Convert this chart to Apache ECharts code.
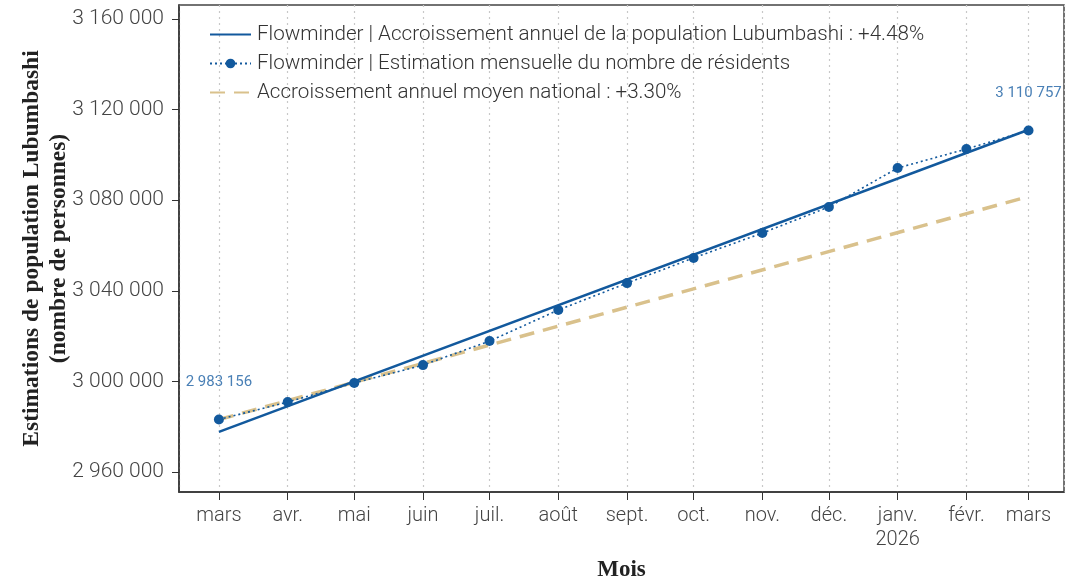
<!DOCTYPE html>
<html>
<head>
<meta charset="utf-8">
<script src="https://cdn.jsdelivr.net/npm/echarts@6/dist/echarts.min.js"></script>
<style>
  html, body { margin: 0; padding: 0; background: #fff; }
  #chart { width: 1074px; height: 579px; }
</style>
</head>
<body>
<div id="chart"></div>
<script>
// estimations mensuelles
const months = ['2025-03-01', '2025-04-01', '2025-05-01', '2025-06-01', '2025-07-01', '2025-08-01',
  '2025-09-01', '2025-10-01', '2025-11-01', '2025-12-01', '2026-01-01', '2026-02-01', '2026-03-01']
const residents = [2983156, 2990900, 2999300, 3007200, 3017800, 3031500,
  3043400, 3054500, 3065500, 3077000, 3094200, 3102600, 3110757]
// tendance Flowminder (+4.48%) et moyenne nationale (+3.30%)
const trendDates = ['2025-03-01', '2026-03-01']
const trendValues = [2977700, 3111100]
const nationalDates = ['2025-03-01', '2026-03-01']
const nationalValues = [2983156, 3081600]
const yTicks = [2960000, 3000000, 3040000, 3080000, 3120000, 3160000]
const monthNames = ['janv.', 'févr.', 'mars', 'avr.', 'mai', 'juin', 'juil.', 'août', 'sept.', 'oct.', 'nov.', 'déc.']

const blue = '#12599d'
const tan = '#d9c18c'
const fmt = v => String(Math.round(v)).replace(/\B(?=(\d{3})+(?!\d))/g, ' ')

const chart = echarts.init(document.getElementById('chart'))
const DAY = 86400000

const nameTrend = 'Flowminder | Accroissement annuel de la population Lubumbashi : +4.48%'
const nameMonthly = 'Flowminder | Estimation mensuelle du nombre de résidents'
const nameNational = 'Accroissement annuel moyen national : +3.30%'

chart.setOption({
  animation: false,
  textStyle: { fontFamily: 'Roboto' },
  grid: {
    left: 179, right: 10, top: 5, bottom: 87,
    outerBoundsMode: 'none',
    show: true, borderColor: '#444', borderWidth: 1.5
  },
  legend: {
    orient: 'vertical',
    left: 204, top: 19,
    itemWidth: 41, itemHeight: 12,
    itemGap: 8,
    textStyle: { fontSize: 20.6, color: '#333', fontFamily: 'Roboto', fontWeight: 300, padding: [0, 0, 0, 1] },
    data: [
      { name: nameTrend, itemStyle: { opacity: 0 } },
      { name: nameMonthly },
      { name: nameNational, itemStyle: { opacity: 0 } }
    ]
  },
  xAxis: {
    type: 'time',
    min: new Date(2025, 1, 11).getTime(),
    max: new Date(2026, 2, 17).getTime(),
    minInterval: 28 * DAY,
    maxInterval: 31 * DAY,
    name: 'Mois',
    nameLocation: 'middle',
    nameGap: 67,
    nameMoveOverlap: false,
    nameTextStyle: { fontFamily: 'Liberation Serif', fontWeight: 'bold', fontSize: 23, color: '#222' },
    axisLine: { lineStyle: { color: '#333', width: 1.5 } },
    axisTick: { show: true, length: 8, lineStyle: { color: '#333' } },
    axisLabel: {
      fontSize: 20, color: '#444', margin: 12, fontWeight: 300,
      lineHeight: 24,
      hideOverlap: false,
      formatter: function (value) {
        const d = new Date(value)
        const m = d.getMonth()
        return m === 0 ? monthNames[m] + '\n' + d.getFullYear() : monthNames[m]
      }
    },
    splitLine: { show: true, lineStyle: { color: '#c8c8c8', type: [2, 4], width: 1.2 } }
  },
  yAxis: {
    type: 'value',
    min: 2951170,
    max: 3166180,
    name: 'Estimations de population Lubumbashi\n(nombre de personnes)',
    nameLocation: 'middle',
    nameGap: 107,
    nameMoveOverlap: false,
    nameTextStyle: { fontFamily: 'Liberation Serif', fontWeight: 'bold', fontSize: 23.5, color: '#222', lineHeight: 27 },
    axisLine: { show: true, lineStyle: { color: '#333', width: 1.5 } },
    axisTick: { show: true, length: 7, customValues: yTicks, lineStyle: { color: '#333' } },
    axisLabel: {
      fontSize: 21, color: '#444', margin: 15, fontWeight: 300,
      customValues: yTicks,
      formatter: fmt
    },
    splitLine: { show: false }
  },
  series: [
    {
      name: nameNational,
      type: 'line',
      symbol: 'none',
      data: nationalDates.map((d, i) => [d, nationalValues[i]]),
      lineStyle: { color: tan, width: 3.5, type: [15, 9] },
      itemStyle: { color: tan },
      z: 1
    },
    {
      name: nameMonthly,
      type: 'line',
      symbol: 'circle',
      symbolSize: 10,
      data: months.map((d, i) => {
        const item = { value: [d, residents[i]] }
        if (i === 0 || i === months.length - 1) {
          item.label = {
            show: true, position: 'top', distance: 25,
            formatter: p => fmt(p.value[1]),
            color: '#4a80b6', fontSize: 15
          }
        }
        return item
      }),
      lineStyle: { color: blue, width: 1.6, type: [2, 3] },
      itemStyle: { color: blue },
      z: 2
    },
    {
      name: nameTrend,
      type: 'line',
      symbol: 'none',
      data: trendDates.map((d, i) => [d, trendValues[i]]),
      lineStyle: { color: blue, width: 2.5 },
      itemStyle: { color: blue },
      z: 3
    }
  ]
})
</script>
</body>
</html>
